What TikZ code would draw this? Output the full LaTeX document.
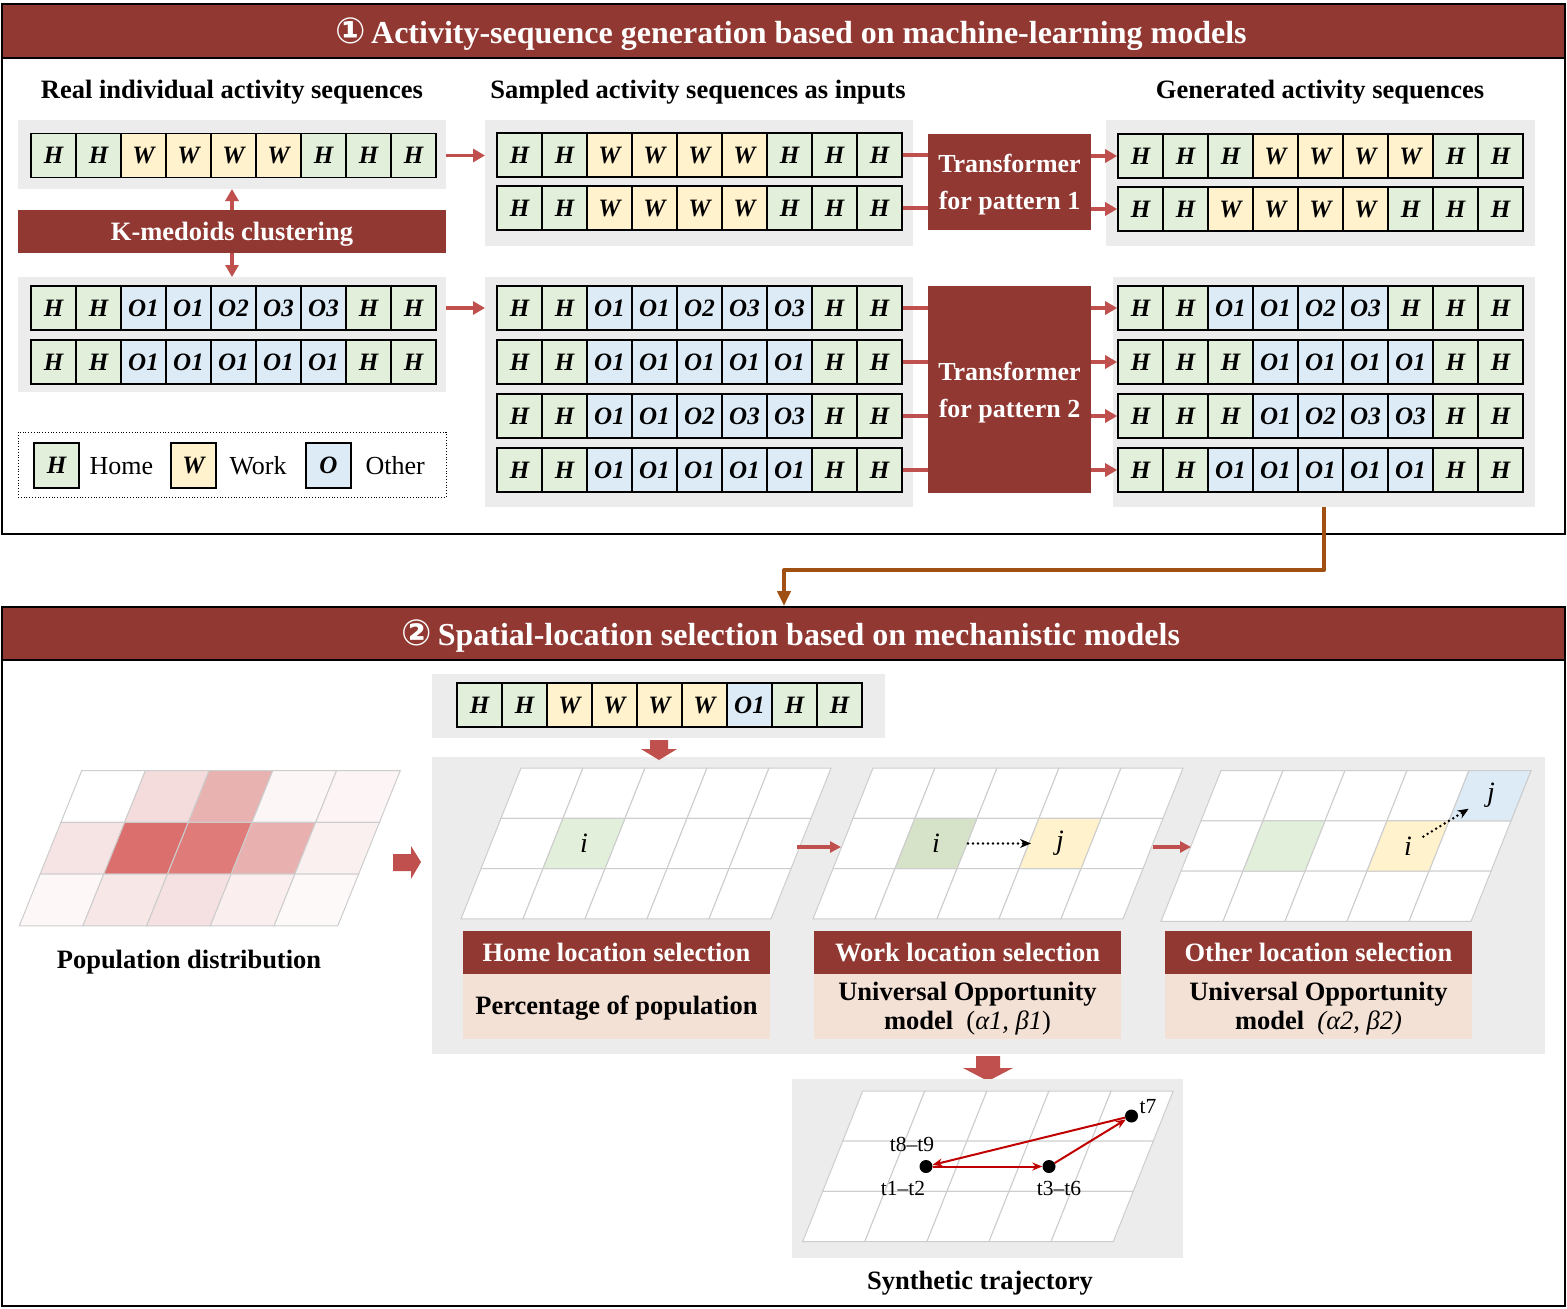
\documentclass[tikz,border=0pt]{standalone}
\usepackage{fontspec}
\setmainfont{Liberation Serif}
\newfontfamily\dejavu{DejaVu Sans}
\usetikzlibrary{arrows.meta}
\definecolor{dred}{RGB}{145,56,50}
\definecolor{ared}{RGB}{192,80,77}
\definecolor{brn}{RGB}{160,80,18}
\definecolor{bggray}{RGB}{236,236,236}
\definecolor{peach}{RGB}{244,225,214}
\definecolor{hc}{RGB}{226,239,218}
\definecolor{wc}{RGB}{255,242,204}
\definecolor{oc}{RGB}{221,235,247}
\definecolor{gline}{RGB}{205,205,205}
\definecolor{dgreen}{RGB}{214,227,200}
\definecolor{tred}{RGB}{192,0,0}
\newcommand\rnode[7][]{\node[anchor=north west,inner sep=0pt,outer sep=0pt,minimum width={#5pt-#3pt},minimum height={#6pt-#4pt},#1] (#2) at (#3,#4) {#7};}
\newcommand\seqrow[4]{\foreach \t/\c [count=\i] in #4 {\node[cell,fill=\c] (#1-\i) at ({#2+45*\i-22.5},#3) {\t};}}
\newcommand\setgrid[5]{\def\gX{#1}\def\gY{#2}\def\gW{#3}\def\gH{#4}\def\gS{#5}}
\newcommand\gcell[3]{\filldraw[fill=#3,draw=gline,line width=1pt] ({\gX+#2*\gW-#1*\gS},{\gY+#1*\gH}) -- ++(\gW,0) -- ++({-\gS},\gH) -- ++({-\gW},0) -- cycle;}
\newcommand\gwhite{\foreach \r in {0,1,2}{\foreach \c in {0,...,4}{\gcell{\r}{\c}{white}}}}
\newcommand\gcoord[3]{\coordinate (#1) at ({\gX+(#3+0.5)*\gW-(#2+0.5)*\gS},{\gY+(#2+0.5)*\gH});}
\def\seqA{H/hc,H/hc,W/wc,W/wc,W/wc,W/wc,H/hc,H/hc,H/hc}
\def\seqB{H/hc,H/hc,H/hc,W/wc,W/wc,W/wc,W/wc,H/hc,H/hc}
\def\seqC{H/hc,H/hc,O1/oc,O1/oc,O2/oc,O3/oc,O3/oc,H/hc,H/hc}
\def\seqD{H/hc,H/hc,O1/oc,O1/oc,O1/oc,O1/oc,O1/oc,H/hc,H/hc}
\def\seqE{H/hc,H/hc,O1/oc,O1/oc,O2/oc,O3/oc,H/hc,H/hc,H/hc}
\def\seqF{H/hc,H/hc,H/hc,O1/oc,O1/oc,O1/oc,O1/oc,H/hc,H/hc}
\def\seqG{H/hc,H/hc,H/hc,O1/oc,O2/oc,O3/oc,O3/oc,H/hc,H/hc}
\def\seqS{H/hc,H/hc,W/wc,W/wc,W/wc,W/wc,O1/oc,H/hc,H/hc}
\begin{document}
\begin{tikzpicture}[x=1pt,y=-1pt,
  cell/.style={draw=black,line width=1.6pt,minimum width=45pt,minimum height=44pt,inner sep=0pt,text height=16pt,text depth=0pt,font=\fontsize{25}{25}\selectfont\bfseries\itshape},
  bgbox/.style={fill=bggray},
  hdr/.style={fill=dred,draw=black,line width=1.5pt},
  hdrtext/.style={text=white,text height=25pt,text depth=1pt,font=\fontsize{32}{32}\selectfont\bfseries},
  bar/.style={fill=dred,text=white,text height=19pt,text depth=2pt,font=\fontsize{26.5}{26.5}\selectfont\bfseries},
  tfm/.style={fill=dred},
  tfmtext/.style={text=white,align=center,font=\fontsize{26}{37}\selectfont\bfseries},
  pch/.style={fill=peach,align=center,font=\fontsize{26.5}{29}\selectfont\bfseries},
  ttl/.style={font=\fontsize{26.5}{26.5}\selectfont\bfseries},
  leg/.style={anchor=west,font=\fontsize{26}{26}\selectfont},
  redarrow/.style={draw=ared,line width=3.5pt,-{Triangle[length=12pt,width=13pt]}},
  smallarrow/.style={draw=ared,line width=3.2pt,-{Triangle[length=11pt,width=11pt]}},
  redline/.style={draw=ared,line width=3.5pt},
  blk/.style={fill=ared,draw=none},
  dotarrow/.style={draw=black,line width=2.8pt,line cap=round,dash pattern=on 0pt off 5pt,-{Stealth[length=11pt,width=9pt]}},
  traj/.style={draw=tred,line width=2pt,-{Stealth[length=10pt,width=8pt]}},
  dot/.style={circle,fill=black,minimum size=13pt,inner sep=0pt},
  tl/.style={font=\fontsize{21.5}{21.5}\selectfont},
  gi/.style={font=\fontsize{28}{28}\selectfont\itshape}]
\useasboundingbox (0,0) rectangle (1567,1309);
\fill[white] (0,0) rectangle (1567,1309);
% ===== Section 1 =====
\draw[line width=1.5pt] (2,4) rectangle (1565,534);
\rnode[hdr]{h1}{2}{4}{1565}{58}{}
\node[hdrtext] at (791,31) {{\dejavu\bfseries\fontsize{36}{36}\selectfont ①}\,Activity-sequence generation based on machine-learning models};
\node[ttl] at (232,92) {Real individual activity sequences};
\node[ttl] at (698,92) {Sampled activity sequences as inputs};
\node[ttl] at (1320,92) {Generated activity sequences};
% left
\rnode[bgbox]{lg1}{18}{120}{446}{189}{}
\seqrow{l1}{31}{155.5}{\seqA}
\rnode[bar]{kbar}{18}{210}{446}{253}{K-medoids clustering}
\rnode[bgbox]{lg2}{18}{277}{446}{392}{}
\seqrow{l2}{31}{308}{\seqC}
\seqrow{l3}{31}{362}{\seqD}
\draw[redarrow] (kbar.north) -- (lg1.south);
\draw[redarrow] (kbar.south) -- (lg2.north);
% legend
\rnode[draw=black,line width=0.8pt,dotted]{legbox}{18}{432}{446}{497}{}
\node[cell,fill=hc,minimum height=45pt] (lh) at (56.5,465.5) {H};
\node[leg] at (86,466) {Home};
\node[cell,fill=wc,minimum height=45pt] (lw) at (193.5,465.5) {W};
\node[leg] at (226,466) {Work};
\node[cell,fill=oc,minimum height=45pt] (lo) at (328.5,465.5) {O};
\node[leg] at (362,466) {Other};
% middle
\rnode[bgbox]{mg1}{485}{120}{913}{246}{}
\seqrow{m1}{497}{155}{\seqA}
\seqrow{m2}{497}{208}{\seqA}
\rnode[bgbox]{mg2}{485}{277}{913}{507}{}
\seqrow{m3}{497}{308}{\seqC}
\seqrow{m4}{497}{362}{\seqD}
\seqrow{m5}{497}{416}{\seqC}
\seqrow{m6}{497}{470}{\seqD}
\draw[redarrow] (lg1.east |- l1-9) -- (mg1.west |- l1-9);
\draw[redarrow] (lg2.east |- l2-9) -- (mg2.west |- l2-9);
% transformers
\rnode[tfm]{tf1}{928}{134}{1091}{230}{}
\node[tfmtext] at ([yshift=-3pt]tf1.center) {Transformer\\for pattern 1};
\rnode[tfm]{tf2}{928}{286}{1091}{493}{}
\node[tfmtext] at ([yshift=-3pt]tf2.center) {Transformer\\for pattern 2};
% right
\rnode[bgbox]{rg1}{1106}{120}{1535}{246}{}
\seqrow{r1}{1118}{156}{\seqB}
\seqrow{r2}{1118}{209}{\seqA}
\rnode[bgbox]{rg2}{1113}{277}{1535}{507}{}
\seqrow{r3}{1118}{308}{\seqE}
\seqrow{r4}{1118}{362}{\seqF}
\seqrow{r5}{1118}{416}{\seqG}
\seqrow{r6}{1118}{470}{\seqD}
\foreach \m in {m1,m2}{\draw[redline] (\m-9.east) -- (tf1.west |- \m-9.east);}
\foreach \m in {m3,m4,m5,m6}{\draw[redline] (\m-9.east) -- (tf2.west |- \m-9.east);}
\foreach \r in {r1,r2}{\draw[redarrow] (tf1.east |- \r-1.west) -- (\r-1.west);}
\foreach \r in {r3,r4,r5,r6}{\draw[redarrow] (tf2.east |- \r-1.west) -- (\r-1.west);}
% ===== Section 2 =====
\draw[line width=1.5pt] (2,607) rectangle (1565,1306);
\rnode[hdr]{h2}{2}{607}{1565}{660}{}
\node[hdrtext] at (791,633.5) {{\dejavu\bfseries\fontsize{36}{36}\selectfont ②}\,Spatial-location selection based on mechanistic models};
\coordinate (h2in) at (784,606);
\draw[draw=brn,line width=4pt,line join=round,-{Triangle[length=15pt,width=13pt]}] (rg2.south) -- ++(0,63) -| (h2in);
% sequence
\rnode[bgbox]{sg}{432}{674}{885}{738}{}
\seqrow{s}{457}{705}{\seqS}
\rnode[bgbox]{big}{432}{757}{1545}{1054}{}
\fill[blk] (650,740) -- (668,740) -- (668,749) -- (677,749) -- (659,760) -- (641,749) -- (650,749) -- cycle;
% population grid
\setgrid{81.7}{770.7}{63.7}{51.7}{20.8}
\foreach \r/\c/\h in {0/0/FFFFFF,0/1/F4DCDC,0/2/E8B2B1,0/3/FDF6F6,0/4/FDF5F5,
  1/0/F6E4E4,1/1/DA6F6D,1/2/DF7C7A,1/3/E8B1B0,1/4/FBF0F0,
  2/0/FDF7F7,2/1/F7E7E7,2/2/F5E1E1,2/3/FBEEEE,2/4/FEF9F9}{\definecolor{tmpc}{HTML}{\h}\gcell{\r}{\c}{tmpc}}
\node[ttl] at (189,962) {Population distribution};
\fill[blk] (393,854) -- (411,854) -- (411,846) -- (421,862) -- (411,879) -- (411,871) -- (393,871) -- cycle;
% grid 1 home
\setgrid{521}{768}{62}{50.3}{20}
\gwhite
\gcell{1}{1}{hc}
\gcoord{g1i}{1}{1}
\node[gi] at (g1i) {i};
% grid 2 work
\setgrid{873}{768}{62}{50.3}{20}
\gwhite
\gcell{1}{1}{dgreen}
\gcell{1}{3}{wc}
\gcoord{g2i}{1}{1}
\gcoord{g2j}{1}{3}
\node[gi] at (g2i) {i};
\node[gi] at (g2j) {j};
\draw[dotarrow] ([xshift=32pt]g2i) -- ([xshift=-29pt]g2j);
% grid 3 other
\setgrid{1221}{770.5}{62}{50.3}{20}
\gwhite
\gcell{1}{1}{hc}
\gcell{1}{3}{wc}
\gcell{0}{4}{oc}
\gcoord{g3i}{1}{3}
\gcoord{g3j}{0}{4}
\node[gi] at (g3i) {i};
\node[gi] at ([xshift=1pt]g3j) {j};
\draw[dotarrow,shorten <=18pt,shorten >=25pt] (g3i) -- (g3j);
% small arrows
\coordinate (a1s) at (797,847); \coordinate (a1e) at (841,847);
\coordinate (a2s) at (1153,847); \coordinate (a2e) at (1191,847);
\draw[smallarrow] (a1s) -- (a1e);
\draw[smallarrow] (a2s) -- (a2e);
% label boxes
\rnode[bar]{hb}{463}{931}{770}{974}{Home location selection}
\rnode[pch]{hp}{463}{974}{770}{1039}{}
\node[pch,fill=none] at ([yshift=-2pt]hp.center) {Percentage of population};
\rnode[bar]{wb}{814}{931}{1121}{974}{Work location selection}
\rnode[pch]{wp}{814}{974}{1121}{1039}{}
\node[pch,fill=none] at ([yshift=-2pt]wp.center) {Universal Opportunity\\model~~{\mdseries(\textit{α1, β1})}};
\rnode[bar]{ob}{1165}{931}{1472}{974}{Other location selection}
\rnode[pch]{op}{1165}{974}{1472}{1039}{}
\node[pch,fill=none] at ([yshift=-2pt]op.center) {Universal Opportunity\\model~~{\mdseries\itshape (α2, β2)}};
\fill[blk] (976,1056) -- (1000,1056) -- (1000,1068) -- (1013,1068) -- (988,1081) -- (963,1068) -- (976,1068) -- cycle;
% trajectory
\rnode[bgbox]{tg}{792}{1079}{1183}{1258}{}
\setgrid{862.7}{1091}{62.1}{50.2}{20}
\gwhite
\node[dot] (t1) at (926,1166.5) {};
\node[dot] (t3) at (1049,1166.5) {};
\node[dot] (t7) at (1131.5,1116) {};
\draw[traj] (t1) -- (t3);
\draw[traj] (t3) -- (t7);
\draw[traj] (t7) -- (t1);
\node[tl] at (912,1144) {t8–t9};
\node[tl] at (903,1188) {t1–t2};
\node[tl] at (1059,1188) {t3–t6};
\node[tl] at (1148,1107) {t7};
\node[ttl] at (980,1283) {Synthetic trajectory};
\end{tikzpicture}
\end{document}
